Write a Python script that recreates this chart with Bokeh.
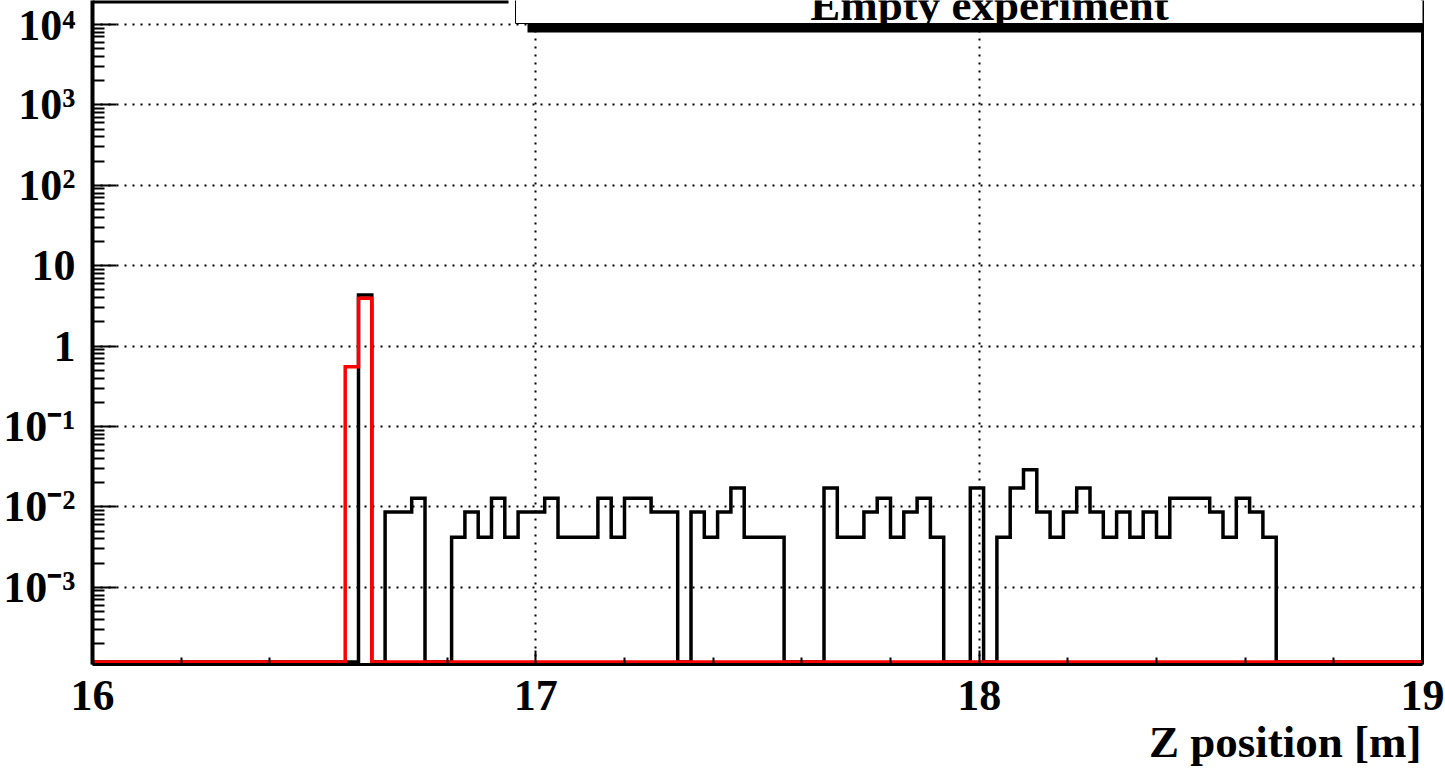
import numpy as np
from bokeh.plotting import figure
from bokeh.models import Range1d, FixedTicker, Label, BoxAnnotation, Title, LogAxis
from bokeh.embed import file_html
from bokeh.resources import INLINE

# ---------------- data ----------------
X_MIN, X_MAX, N_BINS = 16.0, 19.0, 100

x_ticks = [16, 17, 18, 19]
x_tick_labels = ["16", "17", "18", "19"]

y_tick_values = [1e-3, 1e-2, 1e-1, 1.0, 10.0, 1e2, 1e3, 1e4]
y_tick_labels = ["10\u207b\u00b3", "10\u207b\u00b2", "10\u207b\u00b9", "1", "10",
                 "10\u00b2", "10\u00b3", "10\u2074"]

# black histogram (100 bins of 0.03 m from 16 to 19 m)
black_values = [
    0, 0, 0, 0, 0, 0, 0, 0, 0, 0,
    0, 0, 0, 0, 0, 0, 0, 0, 0, 0,
    4.33, 0, 0.0086, 0.0086, 0.0128, 0, 0, 0.0042, 0.0086, 0.0042,
    0.0128, 0.0042, 0.0086, 0.0086, 0.0128, 0.0042, 0.0042, 0.0042, 0.0128, 0.0042,
    0.0128, 0.0128, 0.0086, 0.0086, 0, 0.0086, 0.0042, 0.0086, 0.0171, 0.0042,
    0.0042, 0.0042, 0, 0, 0, 0.0171, 0.0042, 0.0042, 0.0086, 0.0128,
    0.0042, 0.0086, 0.0128, 0.0042, 0, 0, 0.0171, 0, 0.0042, 0.0171,
    0.029, 0.0086, 0.0042, 0.0086, 0.0171, 0.0086, 0.0042, 0.0086, 0.0042, 0.0086,
    0.0042, 0.0128, 0.0128, 0.0128, 0.0086, 0.0042, 0.0128, 0.0086, 0.0042, 0,
    0, 0, 0, 0, 0, 0, 0, 0, 0, 0,
]

# red histogram
red_values = [0] * 19 + [0.554, 3.94] + [0] * 79

title_text = "Empty experiment"
x_title = "Z position [m]"

# ---------------- layout constants ----------------
FONT = "Liberation Serif"
FRAME_H = 664
PPD = 80.39                      # pixels per decade
Y_LOG_MAX = 4 + 24 / PPD
Y_LOG_MIN = Y_LOG_MAX - FRAME_H / PPD
y_min, y_max = 10 ** Y_LOG_MIN, 10 ** Y_LOG_MAX
floor_level = 10 ** (Y_LOG_MIN + 2.5 / PPD)

edges = np.linspace(X_MIN, X_MAX, N_BINS + 1)

def step_y(vals):
    v = [floor_level if val <= 0 else val for val in vals]
    return v + [floor_level]

p = figure(width=1445, height=770, title=None,
           x_range=Range1d(X_MIN, X_MAX), y_range=Range1d(y_min, y_max),
           y_axis_type="log", output_backend="svg", toolbar_location=None,
           min_border_left=92, min_border_right=23, min_border_top=0,
           min_border_bottom=770 - FRAME_H)
p.background_fill_color = "white"
p.border_fill_color = "white"
p.outline_line_color = None

# x axis
xa = p.xaxis[0]
xa.ticker = FixedTicker(ticks=x_ticks,
                        minor_ticks=[round(X_MIN + 0.2 * k, 1) for k in range(1, 15) if k % 5 != 0])
xa.major_label_overrides = {t: s for t, s in zip(x_ticks, x_tick_labels)}
xa.axis_line_width = 3
xa.axis_line_color = "black"
xa.major_tick_in = 14
xa.major_tick_out = 0
xa.minor_tick_in = 7
xa.minor_tick_out = 0
xa.major_tick_line_width = 2
xa.minor_tick_line_width = 2
xa.major_tick_line_color = "black"
xa.minor_tick_line_color = "black"
xa.major_label_text_font = FONT
xa.major_label_text_font_style = "bold"
xa.major_label_text_font_size = "44px"
xa.major_label_text_color = "black"
xa.major_label_standoff = 16

# y axis
ya = p.yaxis[0]
ya.ticker = FixedTicker(ticks=y_tick_values,
                        minor_ticks=[m * 10.0 ** e for e in range(-4, 5) for m in range(2, 10)])
ya.major_label_overrides = {v: s for v, s in zip(y_tick_values, y_tick_labels)}
ya.axis_line_width = 4
ya.axis_line_color = "black"
ya.major_tick_in = 24
ya.major_tick_out = 0
ya.minor_tick_in = 12
ya.minor_tick_out = 0
ya.major_tick_line_width = 2
ya.minor_tick_line_width = 2
ya.major_tick_line_color = "black"
ya.minor_tick_line_color = "black"
ya.major_label_text_font = FONT
ya.major_label_text_font_style = "bold"
ya.major_label_text_font_size = "44px"
ya.major_label_text_color = "black"
ya.major_label_standoff = 17

# right frame line
ra = LogAxis(ticker=FixedTicker(ticks=[]), axis_line_width=3, axis_line_color="black",
             major_tick_in=0, major_tick_out=0, minor_tick_in=0, minor_tick_out=0,
             major_label_text_color=None)
p.add_layout(ra, "right")

# grid
for g in (p.xgrid[0], p.ygrid[0]):
    g.grid_line_color = "black"
    g.grid_line_dash = "2 6"
    g.grid_line_width = 2

# histograms
p.step(x=edges, y=step_y(black_values), mode="after", line_color="black",
       line_width=3.5, line_join="miter")
p.step(x=edges, y=step_y(red_values), mode="after", line_color="#ff0000",
       line_width=3.5, line_join="miter")

# x axis title
p.add_layout(Title(text=x_title, align="right", offset=1, standoff=5,
                   text_font=FONT, text_font_style="bold", text_font_size="45px",
                   text_color="black"), "below")

# decorations at the top: frame top line, title box with shadow
def px_to_x(px):
    return X_MIN + (px - 92) * (X_MAX - X_MIN) / 1330.0

def py_to_y(py):
    return 10 ** (Y_LOG_MAX - py / PPD)

p.add_layout(BoxAnnotation(left=X_MIN, right=px_to_x(508),
                           top=py_to_y(-20), bottom=py_to_y(3),
                           fill_color="black", fill_alpha=1.0, line_color=None))
p.add_layout(BoxAnnotation(left=px_to_x(527), right=px_to_x(1480),
                           top=py_to_y(23), bottom=py_to_y(32),
                           fill_color="black", fill_alpha=1.0, line_color=None))
p.add_layout(BoxAnnotation(left=px_to_x(515), right=px_to_x(1480),
                           top=py_to_y(-30), bottom=py_to_y(23),
                           fill_color="white", fill_alpha=1.0,
                           line_color="black", line_width=1, line_alpha=1.0))
p.add_layout(Label(x=px_to_x(989), y=py_to_y(4), text=title_text,
                   text_align="center", text_baseline="alphabetic",
                   text_font=FONT, text_font_style="bold",
                   text_font_size="45px", text_color="black"))

open("out.html", "w").write(file_html(p, INLINE))
